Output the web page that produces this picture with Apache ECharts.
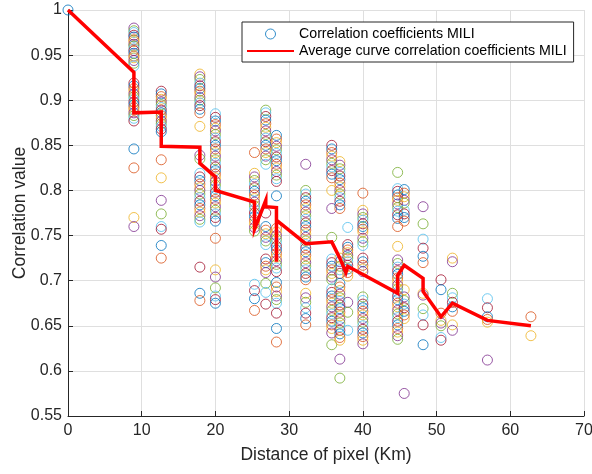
<!DOCTYPE html>
<html>
<head>
<meta charset="utf-8">
<script src="https://cdn.jsdelivr.net/npm/echarts@6/dist/echarts.min.js"></script>
<style>
  html, body { margin: 0; padding: 0; background: #ffffff; }
  #chart { width: 592px; height: 474px; }
</style>
</head>
<body>
<div id="chart"></div>
<script>
// Pixel distances (Km) at which correlation coefficients were sampled
const distances = [0, 8.94, 12.65, 17.89, 20.0, 25.3, 26.83, 28.28, 32.25, 35.78,
                   36.88, 37.95, 40.0, 44.72, 45.61, 48.17, 50.6, 52.15, 56.9, 62.8];

// Correlation coefficients measured at each distance
const d00 = [1.000];
const d01 = [0.980, 0.977, 0.975, 0.972, 0.970, 0.967, 0.965, 0.962, 0.960, 0.957, 0.955, 0.952,
             0.949, 0.947, 0.944, 0.941, 0.938, 0.919, 0.916, 0.913, 0.910, 0.907, 0.904, 0.901,
             0.898, 0.895, 0.892, 0.889, 0.886, 0.883, 0.880, 0.877, 0.846, 0.825, 0.770, 0.760];
const d02 = [0.910, 0.907, 0.904, 0.901, 0.898, 0.895, 0.892, 0.889, 0.886, 0.883, 0.880, 0.877,
             0.874, 0.871, 0.868, 0.865, 0.834, 0.814, 0.789, 0.774, 0.760, 0.757, 0.739, 0.725];
const d03 = [0.929, 0.926, 0.923, 0.919, 0.916, 0.913, 0.910, 0.907, 0.903, 0.900, 0.897, 0.894,
             0.890, 0.886, 0.871, 0.839, 0.835, 0.819, 0.815, 0.811, 0.807, 0.803, 0.800, 0.796,
             0.792, 0.788, 0.784, 0.780, 0.776, 0.772, 0.768, 0.765, 0.715, 0.686, 0.678];
const d04 = [0.885, 0.881, 0.877, 0.873, 0.869, 0.866, 0.862, 0.858, 0.854, 0.850, 0.846, 0.842,
             0.838, 0.834, 0.830, 0.826, 0.822, 0.818, 0.814, 0.810, 0.806, 0.802, 0.798, 0.794,
             0.790, 0.786, 0.782, 0.778, 0.774, 0.770, 0.766, 0.747, 0.712, 0.704, 0.692, 0.683,
             0.679, 0.675];
const d05 = [0.842, 0.819, 0.815, 0.811, 0.807, 0.803, 0.799, 0.795, 0.791, 0.787, 0.783, 0.779,
             0.775, 0.771, 0.767, 0.763, 0.759, 0.755, 0.696, 0.689, 0.680, 0.667];
const d06 = [0.889, 0.886, 0.882, 0.878, 0.874, 0.870, 0.866, 0.862, 0.858, 0.854, 0.850, 0.846,
             0.842, 0.838, 0.834, 0.829, 0.775, 0.760, 0.756, 0.752, 0.748, 0.744, 0.740, 0.724,
             0.720, 0.716, 0.712, 0.709, 0.697, 0.687, 0.674];
const d07 = [0.861, 0.857, 0.853, 0.849, 0.845, 0.841, 0.837, 0.833, 0.829, 0.825, 0.821, 0.817,
             0.813, 0.810, 0.794, 0.758, 0.754, 0.750, 0.746, 0.742, 0.738, 0.734, 0.730, 0.726,
             0.722, 0.718, 0.714, 0.710, 0.698, 0.693, 0.688, 0.683, 0.679, 0.675, 0.664, 0.647,
             0.632];
const d08 = [0.829, 0.800, 0.796, 0.792, 0.788, 0.784, 0.780, 0.776, 0.772, 0.768, 0.764, 0.760,
             0.756, 0.752, 0.748, 0.744, 0.740, 0.736, 0.732, 0.728, 0.724, 0.720, 0.716, 0.712,
             0.708, 0.704, 0.701, 0.686, 0.681, 0.676, 0.670, 0.664, 0.658, 0.651];
const d09 = [0.850, 0.846, 0.842, 0.838, 0.834, 0.830, 0.826, 0.822, 0.818, 0.814, 0.800, 0.780,
             0.748, 0.724, 0.720, 0.716, 0.712, 0.708, 0.704, 0.701, 0.691, 0.687, 0.683, 0.679,
             0.675, 0.671, 0.667, 0.663, 0.659, 0.655, 0.651, 0.647, 0.642, 0.629];
const d10 = [0.832, 0.828, 0.824, 0.820, 0.816, 0.812, 0.808, 0.804, 0.800, 0.796, 0.792, 0.788,
             0.784, 0.780, 0.725, 0.721, 0.716, 0.712, 0.708, 0.697, 0.693, 0.689, 0.685, 0.681,
             0.677, 0.673, 0.669, 0.665, 0.661, 0.657, 0.653, 0.649, 0.645, 0.641, 0.637, 0.634,
             0.613, 0.592];
const d11 = [0.759, 0.740, 0.737, 0.734, 0.731, 0.728, 0.725, 0.721, 0.717, 0.713, 0.709, 0.705,
             0.676, 0.665, 0.645];
const d12 = [0.797, 0.778, 0.774, 0.770, 0.767, 0.763, 0.760, 0.757, 0.754, 0.747, 0.743, 0.739,
             0.725, 0.721, 0.717, 0.713, 0.710, 0.682, 0.678, 0.674, 0.670, 0.666, 0.662, 0.658,
             0.654, 0.650, 0.646, 0.642, 0.638, 0.634, 0.630];
const d13 = [0.820, 0.802, 0.799, 0.795, 0.792, 0.789, 0.785, 0.781, 0.777, 0.773, 0.769, 0.760,
             0.738, 0.723, 0.719, 0.715, 0.711, 0.707, 0.703, 0.699, 0.695, 0.691, 0.687, 0.683,
             0.679, 0.675, 0.671, 0.667, 0.663, 0.659, 0.655, 0.651, 0.647, 0.643, 0.639, 0.635];
const d14 = [0.801, 0.797, 0.793, 0.789, 0.786, 0.778, 0.774, 0.770, 0.766, 0.690, 0.682, 0.678,
             0.674, 0.670, 0.666, 0.662, 0.658, 0.575];
const d15 = [0.782, 0.763, 0.746, 0.736, 0.727, 0.720, 0.686, 0.684, 0.669, 0.662, 0.651, 0.629];
const d16 = [0.701, 0.690, 0.664, 0.656, 0.653, 0.650, 0.637, 0.634];
const d17 = [0.725, 0.721, 0.686, 0.681, 0.676, 0.671, 0.666, 0.651, 0.645];
const d18 = [0.680, 0.670, 0.660, 0.657, 0.654, 0.612];
const d19 = [0.660, 0.639];

const coefficientsByDistance = [d00, d01, d02, d03, d04, d05, d06, d07, d08, d09,
                                d10, d11, d12, d13, d14, d15, d16, d17, d18, d19];

// Average curve vertices (distance, mean coefficient)
const curveX = [0, 8.94, 8.94, 12.65, 12.65, 17.89, 17.89, 20.0, 20.0, 25.3, 25.3, 26.83, 26.83,
                28.28, 28.28, 28.28, 32.25, 35.78, 36.88, 37.7, 37.95, 44.72, 44.72, 45.61,
                48.17, 48.17, 50.6, 52.15, 56.9, 62.8];
const curveY = [1.000, 0.931, 0.886, 0.887, 0.849, 0.848, 0.830, 0.815, 0.800, 0.787, 0.757, 0.789,
                0.782, 0.781, 0.721, 0.767, 0.741, 0.743, 0.725, 0.709, 0.716, 0.686, 0.706, 0.717,
                0.7025, 0.688, 0.660, 0.675, 0.656, 0.650];

const seriesNames = ['Correlation coefficients MILI', 'Average curve correlation coefficients MILI'];

// MATLAB default colour order for the scatter markers
const palette = ['#0072BD', '#D95319', '#EDB120', '#7E2F8E', '#77AC30', '#4DBEEE', '#A2142F'];

const scatterData = [];
coefficientsByDistance.forEach(function (vals, ci) {
  vals.forEach(function (v, i) {
    scatterData.push({
      value: [distances[ci], v],
      itemStyle: { borderColor: palette[(i + ci * 3) % palette.length] }
    });
  });
});
const curveData = curveX.map(function (x, i) { return [x, curveY[i]]; });

const axisColor = '#262626';
const fontFamily = '"Liberation Sans", Arial, Helvetica, sans-serif';

const chart = echarts.init(document.getElementById('chart'), null, { renderer: 'canvas' });
chart.setOption({
  animation: false,
  backgroundColor: '#ffffff',
  textStyle: { fontFamily: fontFamily },
  grid: { left: 68, right: 8, top: 10, bottom: 58, containLabel: false, outerBoundsMode: 'none' },
  legend: {
    orient: 'vertical',
    left: 242,
    top: 22,
    padding: [5, 7, 4, 4],
    itemWidth: 47,
    itemHeight: 10,
    itemGap: 3,
    backgroundColor: '#ffffff',
    borderColor: axisColor,
    borderWidth: 1,
    textStyle: { fontSize: 14.2, color: '#000000', fontFamily: fontFamily },
    data: [
      { name: seriesNames[0], icon: 'circle',
        itemStyle: { color: 'rgba(0,0,0,0)', borderColor: '#0072BD', borderWidth: 1 } },
      { name: seriesNames[1],
        itemStyle: { color: 'rgba(0,0,0,0)', borderColor: 'rgba(0,0,0,0)', borderWidth: 0, opacity: 0 } }
    ]
  },
  xAxis: {
    type: 'value',
    min: 0, max: 70, interval: 10,
    name: 'Distance of pixel (Km)',
    nameLocation: 'middle',
    nameGap: 30,
    nameMoveOverlap: false,
    nameTextStyle: { fontSize: 17.5, color: axisColor, fontFamily: fontFamily },
    axisLine: { show: true, onZero: false, lineStyle: { color: axisColor, width: 1 } },
    axisTick: { show: true, inside: true, length: 5, lineStyle: { color: axisColor } },
    axisLabel: { fontSize: 16, color: axisColor, margin: 7, fontFamily: fontFamily },
    splitLine: { show: true, lineStyle: { color: '#dfdfdf', width: 1 } }
  },
  yAxis: {
    type: 'value',
    min: 0.55, max: 1, interval: 0.05,
    name: 'Correlation value',
    nameLocation: 'middle',
    nameGap: 39,
    nameMoveOverlap: false,
    nameTextStyle: { fontSize: 17.5, color: axisColor, fontFamily: fontFamily },
    axisLine: { show: true, onZero: false, lineStyle: { color: axisColor, width: 1 } },
    axisTick: { show: true, inside: true, length: 5, lineStyle: { color: axisColor } },
    axisLabel: {
      fontSize: 16, color: axisColor, margin: 6, fontFamily: fontFamily,
      formatter: function (v) { return String(parseFloat(v.toFixed(2))); }
    },
    splitLine: { show: true, lineStyle: { color: '#dfdfdf', width: 1 } }
  },
  series: [
    {
      name: seriesNames[0],
      type: 'scatter',
      symbol: 'circle',
      symbolSize: 10,
      itemStyle: { color: 'rgba(0,0,0,0)', borderColor: '#0072BD', borderWidth: 1 },
      data: scatterData,
      z: 2
    },
    {
      name: seriesNames[1],
      type: 'line',
      symbol: 'none',
      showSymbol: false,
      lineStyle: { color: '#ff0000', width: 3.5, join: 'miter' },
      itemStyle: { color: '#ff0000' },
      data: curveData,
      z: 3
    }
  ]
});
</script>
</body>
</html>
